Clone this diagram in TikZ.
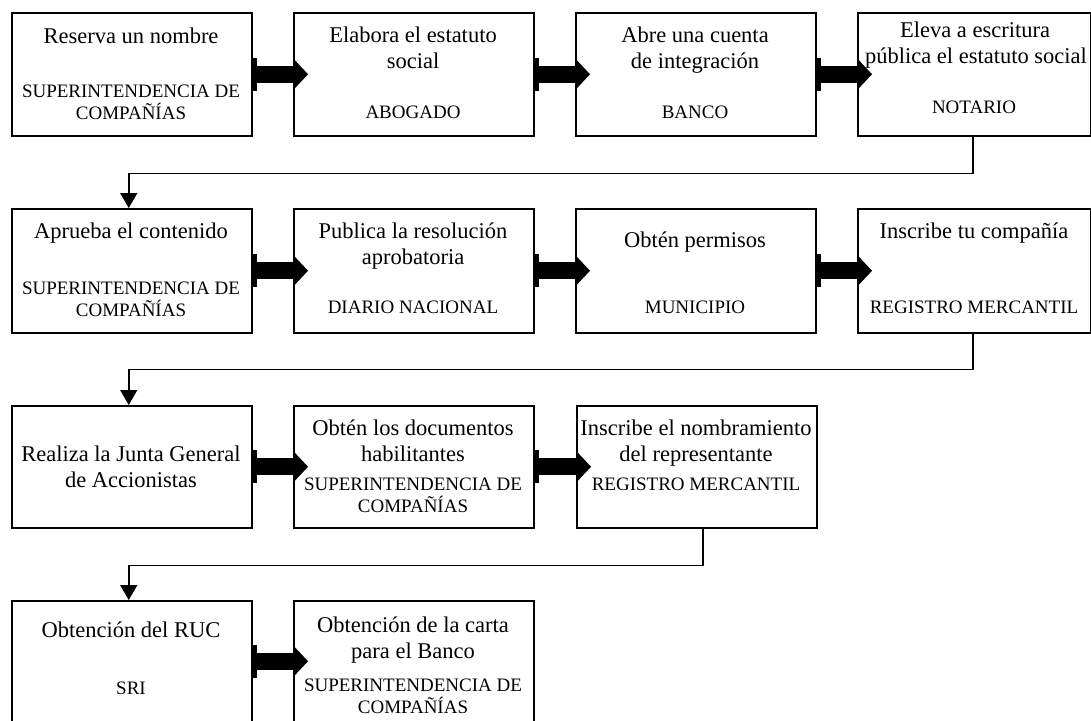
\documentclass[tikz,border=0pt]{standalone}
\usepackage{fontspec}
\setmainfont{Liberation Serif}
\usetikzlibrary{calc,arrows.meta}
\tikzset{
  box/.style={draw, line width=1.5pt, rectangle, anchor=north west, inner sep=0pt},
  ttl/.style={anchor=base, inner sep=0pt, font=\fontsize{22.5}{26}\selectfont},
  sub/.style={anchor=base, inner sep=0pt, font=\fontsize{19}{22}\selectfont},
  conn/.style={line width=1.5pt, -{Triangle[length=15pt,width=17pt]}}
}
\newcommand\blockarr[2]{%
  \fill ($(#1.east)+(0,-16.5)$) rectangle ($(#1.east)+(4,16.5)$);
  \fill ($(#1.east)+(0,-8.5)$) rectangle ($(#2.west)+(0,8.5)$);
  \fill ($(#2.west)+(0,-16)$) -- ($(#2.west)+(15,0)$) -- ($(#2.west)+(0,16)$) -- cycle;
}
\begin{document}
\begin{tikzpicture}[x=1pt,y=-1pt]
\useasboundingbox[fill=white] (0,0) rectangle (1091,720);
% row 1
\node[box, minimum width=240pt, minimum height=123pt] (b1) at (11,12) {};
\node[box, minimum width=240pt, minimum height=123pt] (b2) at (293,12) {};
\node[box, minimum width=240pt, minimum height=123pt] (b3) at (575,12) {};
\node[box, minimum width=233pt, minimum height=123pt] (b4) at (857,12) {};
% row 2
\node[box, minimum width=240pt, minimum height=124pt] (b5) at (11,208) {};
\node[box, minimum width=240pt, minimum height=124pt] (b6) at (293,208) {};
\node[box, minimum width=240pt, minimum height=124pt] (b7) at (575,208) {};
\node[box, minimum width=233pt, minimum height=124pt] (b8) at (857,208) {};
% row 3
\node[box, minimum width=240pt, minimum height=122pt] (b9) at (11,405) {};
\node[box, minimum width=240pt, minimum height=122pt] (b10) at (293,405) {};
\node[box, minimum width=240pt, minimum height=122pt] (b11) at (576,405) {};
% row 4
\node[box, minimum width=240pt, minimum height=121pt] (b12) at (11,600) {};
\node[box, minimum width=240pt, minimum height=121pt] (b13) at (293,600) {};

% texts row 1
\node[ttl] (t1a) at (131,43) {Reserva un nombre};
\node[sub] (t1b) at (131,97) {SUPERINTENDENCIA DE};
\node[sub] (t1c) at (131,119) {COMPAÑÍAS};
\node[ttl] (t2a) at (413,42) {Elabora el estatuto};
\node[ttl] (t2b) at (413,68) {social};
\node[sub] (t2c) at (413,118) {ABOGADO};
\node[ttl] (t3a) at (695,42) {Abre una cuenta};
\node[ttl] (t3b) at (695,68) {de integración};
\node[sub] (t3c) at (695,118) {BANCO};
\node[ttl] (t4a) at (975,37) {Eleva a escritura};
\node[ttl] (t4b) at (976,63) {pública el estatuto social};
\node[sub] (t4c) at (974,113) {NOTARIO};
% texts row 2
\node[ttl] (t5a) at (131,238) {Aprueba el contenido};
\node[sub] (t5b) at (131,294) {SUPERINTENDENCIA DE};
\node[sub] (t5c) at (131,316) {COMPAÑÍAS};
\node[ttl] (t6a) at (413,238) {Publica la resolución};
\node[ttl] (t6b) at (413,264) {aprobatoria};
\node[sub] (t6c) at (413,313) {DIARIO NACIONAL};
\node[ttl] (t7a) at (695,247) {Obtén permisos};
\node[sub] (t7b) at (695,313) {MUNICIPIO};
\node[ttl] (t8a) at (974,238) {Inscribe tu compañía};
\node[sub] (t8b) at (974,313) {REGISTRO MERCANTIL};
% texts row 3
\node[ttl] (t9a) at (131,461) {Realiza la Junta General};
\node[ttl] (t9b) at (131,487) {de Accionistas};
\node[ttl] (t10a) at (413,435) {Obtén los documentos};
\node[ttl] (t10b) at (413,461) {habilitantes};
\node[sub] (t10c) at (413,490) {SUPERINTENDENCIA DE};
\node[sub] (t10d) at (413,512) {COMPAÑÍAS};
\node[ttl] (t11a) at (696,435) {Inscribe el nombramiento};
\node[ttl] (t11b) at (696,461) {del representante};
\node[sub] (t11c) at (696,490) {REGISTRO MERCANTIL};
% texts row 4
\node[ttl] (t12a) at (131,637) {Obtención del RUC};
\node[sub] (t12b) at (131,694) {SRI};
\node[ttl] (t13a) at (413,632) {Obtención de la carta};
\node[ttl] (t13b) at (413,658) {para el Banco};
\node[sub] (t13c) at (413,691) {SUPERINTENDENCIA DE};
\node[sub] (t13d) at (413,713) {COMPAÑÍAS};

% block arrows
\blockarr{b1}{b2}
\blockarr{b2}{b3}
\blockarr{b3}{b4}
\blockarr{b5}{b6}
\blockarr{b6}{b7}
\blockarr{b7}{b8}
\blockarr{b9}{b10}
\blockarr{b10}{b11}
\blockarr{b12}{b13}

% row connectors
\draw[conn] ([xshift=-1.5pt]b4.south) -- ++(0,37) -| ([xshift=-3pt]b5.north);
\draw[conn] ([xshift=-1.5pt]b8.south) -- ++(0,36) -| ([xshift=-3pt]b9.north);
\draw[conn] ([xshift=6pt]b11.south) -- ++(0,37) -| ([xshift=-3pt]b12.north);
\end{tikzpicture}
\end{document}
